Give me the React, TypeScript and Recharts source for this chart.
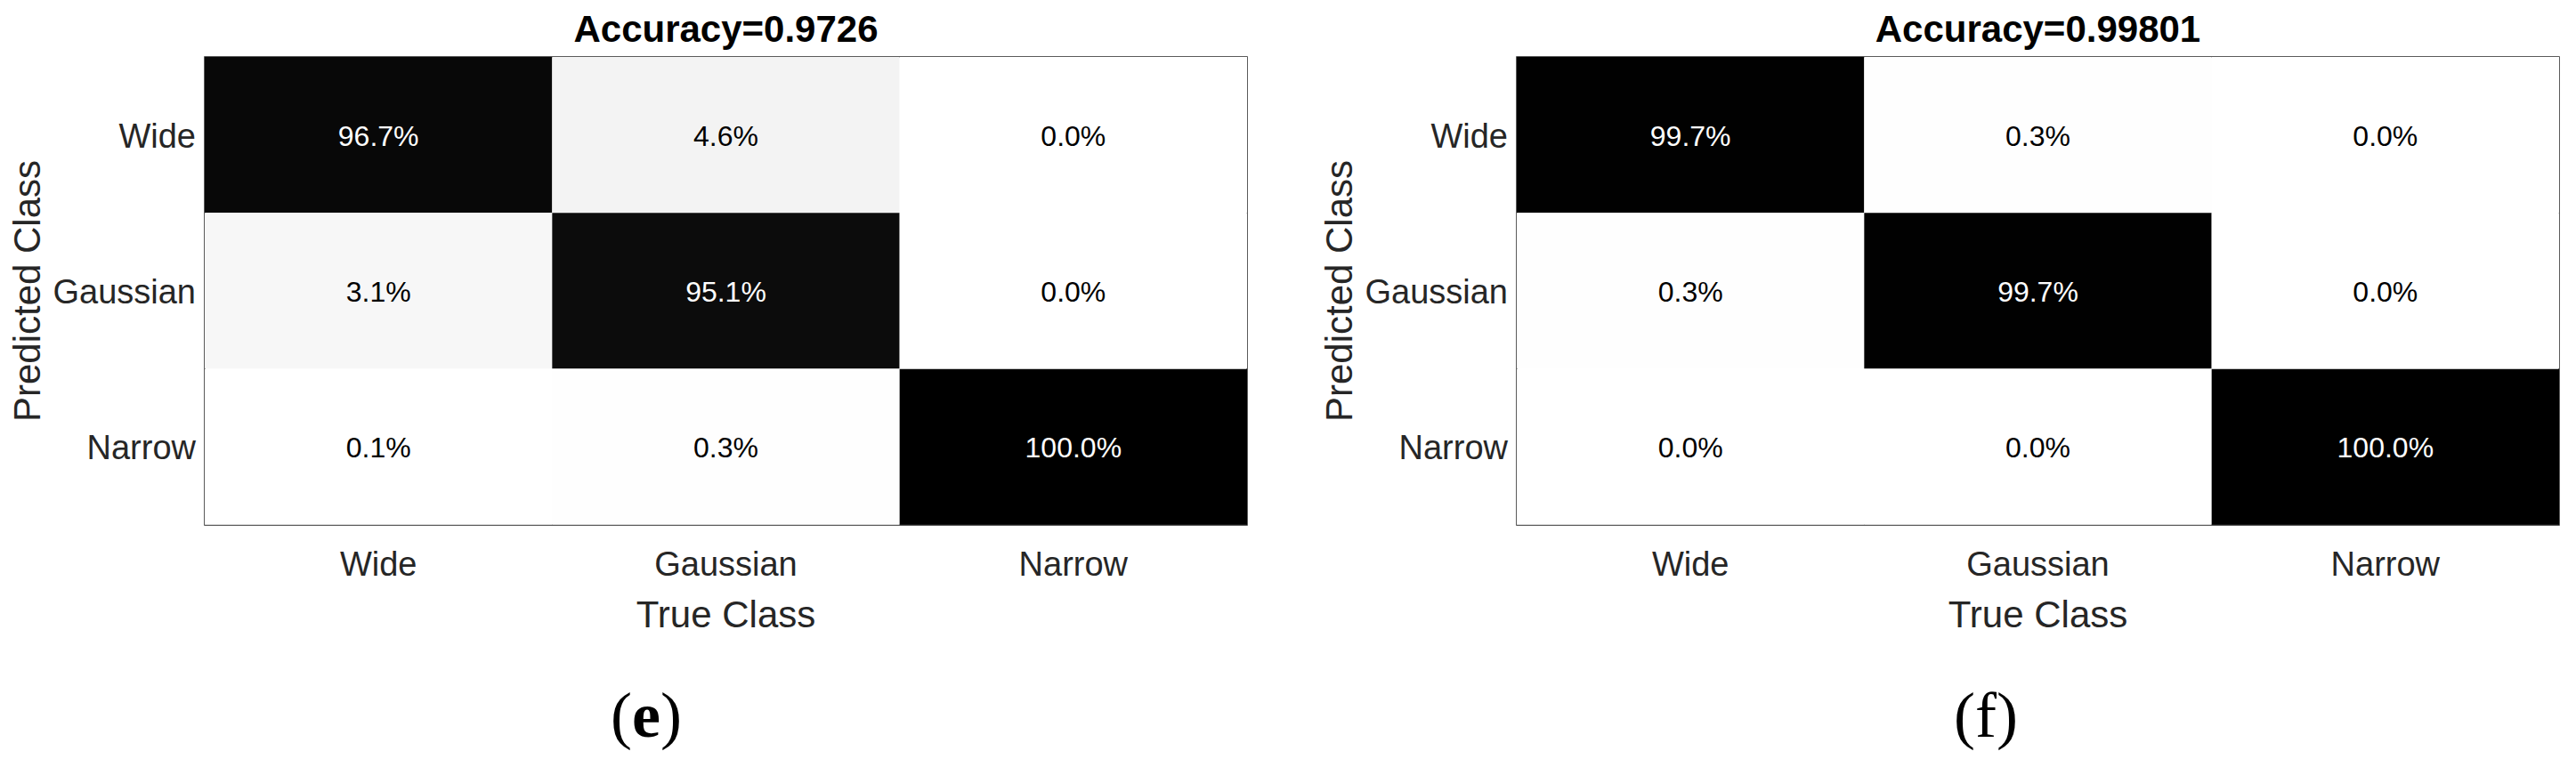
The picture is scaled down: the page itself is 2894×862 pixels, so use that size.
import { BarChart, Bar, XAxis, YAxis, Cell, LabelList, ReferenceArea, Label } from 'recharts';

const trueClasses = ['Wide', 'Gaussian', 'Narrow'];
const predictedClasses = ['Wide', 'Gaussian', 'Narrow'];
const columnTicks = [0.5, 1.5, 2.5];

// rows = predicted class, columns = true class, in percent
const matrixE = [
  [96.7, 4.6, 0.0],
  [3.1, 95.1, 0.0],
  [0.1, 0.3, 100.0],
];
const matrixF = [
  [99.7, 0.3, 0.0],
  [0.3, 99.7, 0.0],
  [0.0, 0.0, 100.0],
];
const accuracyE = '0.9726';
const accuracyF = '0.99801';

const FONT = '"Liberation Sans", Arial, Helvetica, sans-serif';
const SERIF = '"Liberation Serif", "Times New Roman", serif';
const AXIS_COLOR = '#262626';

// every cell is one unit wide so the stacked bars tile the grid
const rows = predictedClasses.map((name) => {
  const row: Record<string, number | string> = { name };
  trueClasses.forEach((c) => (row[c] = 1));
  return row;
});

const shade = (v: number): string => {
  const g = Math.round(255 * (1 - v / 100));
  return `rgb(${g},${g},${g})`;
};

const XTick = (props: any) => {
  const { x, y, payload } = props;
  const label = trueClasses[Math.floor(payload.value)];
  return (
    <text x={x} y={y + 57} textAnchor="middle" fontSize={38} fontFamily={FONT} fill={AXIS_COLOR}>
      {label}
    </text>
  );
};

const YTick = (props: any) => {
  const { x, y, payload } = props;
  return (
    <text x={x - 10} y={y + 14} textAnchor="end" fontSize={38} fontFamily={FONT} fill={AXIS_COLOR}>
      {payload.value}
    </text>
  );
};

interface PanelProps {
  matrix: number[][];
  accuracy: string;
  tag: string;
  tagBold: boolean;
  tagX: number;
  width: number;
  marginRight: number;
}

function ConfusionPanel({ matrix, accuracy, tag, tagBold, tagX, width, marginRight }: PanelProps) {
  const renderTitle = (props: any) => {
    const { x, y, width: w } = props.viewBox;
    return (
      <text x={x + w / 2} y={y - 17} textAnchor="middle" fontSize={42} fontWeight="bold" fontFamily={FONT} fill="#000">
        Accuracy={accuracy}
      </text>
    );
  };

  const renderXLabel = (props: any) => {
    const { x, y, width: w } = props.viewBox;
    return (
      <g>
        <text x={x + w / 2} y={y + 115} textAnchor="middle" fontSize={42} fontFamily={FONT} fill={AXIS_COLOR}>
          True Class
        </text>
        <text x={tagX} y={828} textAnchor="middle" fontSize={72} fontFamily={SERIF} fill="#000">
          <tspan>(</tspan>
          <tspan fontWeight={tagBold ? 'bold' : 'normal'}>{tag}</tspan>
          <tspan>)</tspan>
        </text>
      </g>
    );
  };

  const renderYLabel = (props: any) => {
    const { y, height } = props.viewBox;
    const cy = y + height / 2;
    return (
      <text
        x={45}
        y={cy}
        transform={`rotate(-90, 45, ${cy})`}
        textAnchor="middle"
        fontSize={42}
        fontFamily={FONT}
        fill={AXIS_COLOR}
      >
        Predicted Class
      </text>
    );
  };

  const cellText = (col: number) => (props: any) => {
    const { x, y, width: w, height: h, index } = props;
    const v = matrix[index][col];
    return (
      <text
        x={Number(x) + Number(w) / 2}
        y={Number(y) + Number(h) / 2 + 12}
        textAnchor="middle"
        fontSize={32}
        fontFamily={FONT}
        fill={v > 50 ? '#fff' : '#000'}
      >
        {v.toFixed(1)}%
      </text>
    );
  };

  return (
    <BarChart
      width={width}
      height={862}
      data={rows}
      layout="vertical"
      margin={{ top: 64, right: marginRight, bottom: 0, left: 0 }}
      barCategoryGap={0}
      barGap={0}
    >
      <XAxis
        type="number"
        domain={[0, 3]}
        ticks={columnTicks}
        interval={0}
        tick={XTick}
        tickLine={false}
        axisLine={false}
        tickSize={0}
        tickMargin={0}
        height={272}
        label={<Label content={renderXLabel} />}
      />
      <YAxis
        type="category"
        dataKey="name"
        width={230}
        interval={0}
        tick={YTick}
        tickLine={false}
        axisLine={false}
        tickSize={0}
        tickMargin={0}
        label={<Label content={renderYLabel} />}
      />
      {trueClasses.map((c, col) => (
        <Bar key={c} dataKey={c} stackId="cm" isAnimationActive={false}>
          {predictedClasses.map((p, row) => (
            <Cell key={p} fill={shade(matrix[row][col])} />
          ))}
          <LabelList dataKey={c} content={cellText(col)} />
        </Bar>
      ))}
      <ReferenceArea
        x1={0}
        x2={3}
        fill="none"
        fillOpacity={0}
        stroke={AXIS_COLOR}
        strokeWidth={1.5}
        ifOverflow="visible"
        label={<Label content={renderTitle} />}
      />
    </BarChart>
  );
}

export default function App() {
  return (
    <div style={{ position: 'absolute', left: 0, top: 0, width: 2894, height: 862, overflow: 'hidden', background: '#fff' }}>
      <div style={{ position: 'absolute', left: 0, top: 0 }}>
        <ConfusionPanel matrix={matrixE} accuracy={accuracyE} tag="e" tagBold tagX={726} width={1447} marginRight={46} />
      </div>
      <div style={{ position: 'absolute', left: 1474, top: 0 }}>
        <ConfusionPanel matrix={matrixF} accuracy={accuracyF} tag="f" tagBold={false} tagX={757} width={1420} marginRight={19} />
      </div>
    </div>
  );
}
